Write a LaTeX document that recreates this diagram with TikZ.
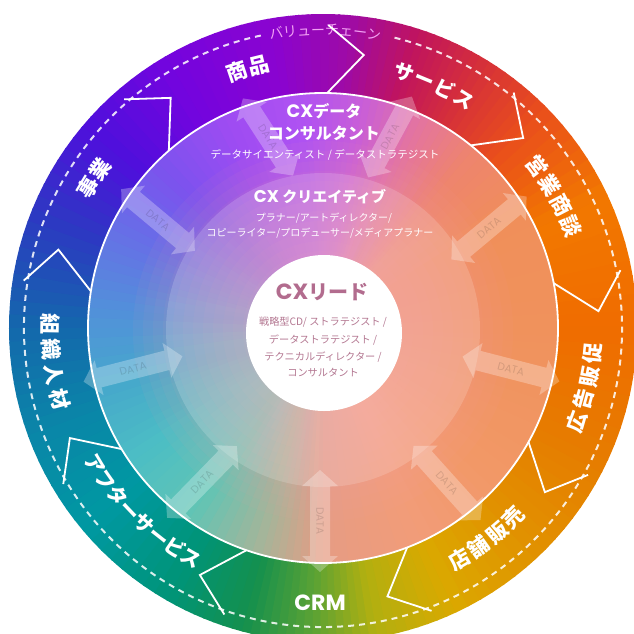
\documentclass[tikz,border=0pt]{standalone}
\usepackage{fontspec}
\newfontfamily\jp{Noto Sans CJK JP}
\newfontfamily\pop{Poppins}
% outer conic colours
\definecolor{oA}{HTML}{F06C00}
\definecolor{oB}{HTML}{F27800}
\definecolor{oC}{HTML}{E94E1C}
\definecolor{oD}{HTML}{D42E3C}
\definecolor{oE}{HTML}{C0145E}
\definecolor{oF}{HTML}{9E0AA6}
\definecolor{oG}{HTML}{8A04D0}
\definecolor{oH}{HTML}{7404DE}
\definecolor{oI}{HTML}{4E10DC}
\definecolor{oJ}{HTML}{2A3CC0}
\definecolor{oK}{HTML}{1468AC}
\definecolor{oL}{HTML}{0A86A8}
\definecolor{oM}{HTML}{0098A2}
\definecolor{oN}{HTML}{009478}
\definecolor{oO}{HTML}{14904E}
\definecolor{oP}{HTML}{5AA234}
\definecolor{oQ}{HTML}{B2B010}
\definecolor{oR}{HTML}{DAA800}
\definecolor{oS}{HTML}{E29000}
\definecolor{oT}{HTML}{E67C00}
% inner conic colours
\definecolor{iA}{HTML}{F0925C}
\definecolor{iB}{HTML}{F08F5A}
\definecolor{iC}{HTML}{EE846E}
\definecolor{iD}{HTML}{E474A0}
\definecolor{iE}{HTML}{C85ED8}
\definecolor{iF}{HTML}{B052F2}
\definecolor{iG}{HTML}{9E4CF2}
\definecolor{iH}{HTML}{7C52EE}
\definecolor{iI}{HTML}{6670E6}
\definecolor{iJ}{HTML}{5290DA}
\definecolor{iK}{HTML}{46A8CC}
\definecolor{iL}{HTML}{4CBEC4}
\definecolor{iM}{HTML}{62C4B4}
\definecolor{iN}{HTML}{A8B498}
\definecolor{iO}{HTML}{E69C84}
\definecolor{iP}{HTML}{F29C78}
\definecolor{iQ}{HTML}{F29866}
\definecolor{iR}{HTML}{F09460}
\definecolor{pinkov}{HTML}{F2A0AA}
\definecolor{vclr}{HTML}{F2A2F4}
\definecolor{leadc}{HTML}{B26C8E}
\definecolor{leads}{HTML}{B47892}

\newcommand\conicfill[2]{%
  \foreach \ga/\gb/\ka/\kb in {#2}{%
    \foreach \i in {0,...,7}{%
      \pgfmathsetmacro\angS{\ga+(\gb-\ga)*\i/8}%
      \pgfmathsetmacro\angE{\ga+(\gb-\ga)*(\i+1)/8+0.35}%
      \pgfmathtruncatemacro\mixT{round(100*(\i+0.5)/8)}%
      \fill[\kb!\mixT!\ka] (0,0) -- (\angS:#1) arc[start angle=\angS, end angle=\angE, radius=#1] -- cycle;
    }}}
\newcommand\toplabel[7]{%
  \foreach \ch [count=\i] in {#7}{%
    \pgfmathsetmacro\ang{#3-(\i-(#6+1)/2)*#5}%
    \node[#2, rotate=\ang-90] (#1\i) at (\ang:#4) {\ch};}}
\newcommand\botlabel[7]{%
  \foreach \ch [count=\i] in {#7}{%
    \pgfmathsetmacro\ang{#3+(\i-(#6+1)/2)*#5}%
    \node[#2, rotate=\ang+90] (#1\i) at (\ang:#4) {\ch};}}
\newcommand\dataarrow[5]{%
  \begin{scope}[shift={(#2,#3)}, rotate=#4]
    \fill[arrowfill] (-#5/2,0) -- (-#5/2+16,18) -- (-#5/2+16,10) -- (#5/2-16,10) -- (#5/2-16,18) -- (#5/2,0)
      -- (#5/2-16,-18) -- (#5/2-16,-10) -- (-#5/2+16,-10) -- (-#5/2+16,-18) -- cycle;
  \end{scope}
  \node[datatxt, rotate=#4] (#1) at (#2,#3) {DATA};}

\begin{document}
\begin{tikzpicture}[x=1pt,y=1pt,
  lbl/.style={text=white, font=\jp\bfseries\fontsize{21}{21}\selectfont, inner sep=0pt, text height=18pt, text depth=3pt},
  lblk/.style={text=white, font=\jp\bfseries\fontsize{20}{20}\selectfont, inner sep=0pt, text height=17pt, text depth=3pt},
  vc/.style={text=vclr, font=\jp\fontsize{14}{14}\selectfont, inner sep=0pt, text height=12pt, text depth=2pt},
  chev/.style={draw=white, line width=1.8pt, line join=miter},
  arrowfill/.style={fill=white, fill opacity=0.28},
  datatxt/.style={font=\pop\fontsize{10.5}{10.5}\selectfont, text=black, text opacity=0.13, inner sep=0pt},
  ttl/.style={text=white, font=\jp\bfseries\fontsize{16}{16}\selectfont, inner sep=0pt},
  subt/.style={text=white, font=\jp\fontsize{10.5}{12}\selectfont, inner sep=0pt},
  leadt/.style={text=leadc, font=\jp\bfseries\fontsize{20}{20}\selectfont, inner sep=0pt},
  leadl/.style={text=leads, font=\jp\fontsize{10.2}{12}\selectfont, inner sep=0pt},
]
\useasboundingbox (-323,-305) rectangle (311,328);

% outer ring conic gradient
\conicfill{314}{0/25/oA/oB, 25/45/oB/oC, 45/60/oC/oD, 60/72/oD/oE, 72/85/oE/oF, 85/100/oF/oG, 100/120/oG/oH, 120/140/oH/oI, 140/160/oI/oJ, 160/180/oJ/oK, 180/200/oK/oL, 200/220/oL/oM, 220/240/oM/oN, 240/255/oN/oO, 255/268/oO/oP, 268/280/oP/oQ, 280/295/oQ/oR, 295/315/oR/oS, 315/335/oS/oT, 335/360/oT/oA}

% dashed value-chain circle
\draw[white, opacity=0.85, line width=2pt, dash pattern=on 6pt off 5pt] (102:299) arc[start angle=102, end angle=437, radius=299];
\toplabel{vc}{vc}{89.6}{298}{2.7}{8}{バ,リ,ュ,ー,チ,ェ,ー,ン}

% chevron boundaries
\foreach \b [count=\k] in {11,51,89,131,171,211,251,291,331}{
  \coordinate (co\k) at (\b:303);
  \coordinate (ct\k) at (\b-7.5:276);
  \coordinate (ci\k) at (\b:235);
  \draw[chev] (co\k) -- (ct\k) -- (ci\k);
}

% inner disc conic gradient
\conicfill{235}{0/30/iA/iB, 30/50/iB/iC, 50/65/iC/iD, 65/80/iD/iE, 80/95/iE/iF, 95/115/iF/iG, 115/135/iG/iH, 135/155/iH/iI, 155/175/iI/iJ, 175/195/iJ/iK, 195/215/iK/iL, 215/235/iL/iM, 235/255/iM/iN, 255/270/iN/iO, 270/295/iO/iP, 295/320/iP/iQ, 320/345/iQ/iR, 345/360/iR/iA}

% pink centre glow
\foreach \r in {190,180,...,20}{
  \fill[pinkov, opacity=0.06] (0,-3) circle[radius=\r];
}
% light inner disc
\fill[white, opacity=0.16] (0,-2) circle[radius=157];
% middle circle border
\draw[white, line width=1.8pt] (0,0) circle[radius=235];

% DATA arrows
\dataarrow{d1}{-55}{191}{-57}{92}
\dataarrow{d2}{67}{191}{61.6}{92}
\dataarrow{d3}{166}{100}{39.9}{98}
\dataarrow{d4}{188}{-41}{-14.4}{100}
\dataarrow{d5}{124}{-155}{-48}{100}
\dataarrow{d6}{-3}{-193}{-90}{102}
\dataarrow{d7}{-121}{-154}{45.8}{100}
\dataarrow{d8}{-190}{-41}{14.4}{102}
\dataarrow{d9}{-165}{108}{-39.9}{96}

% white centre disc
\fill[white] (1,-5) circle[radius=78];

% outer ring labels
\toplabel{sh}{lbl}{106.1}{270}{4.7}{2}{商,品}
\toplabel{sv}{lblk}{65.3}{268}{4.7}{4}{サ,ー,ビ,ス}
\toplabel{ei}{lbl}{29.7}{268}{4.9}{4}{営,業,商,談}
\botlabel{ko}{lbl}{-12.8}{271}{5.0}{4}{広,告,販,促}
\botlabel{te}{lbl}{-52.1}{269}{4.9}{4}{店,舗,販,売}
\node[text=white, font=\pop\bfseries\fontsize{22}{22}\selectfont, inner sep=0pt] (crm) at (-90.6:275) {CRM};
\botlabel{af}{lblk}{225.5}{266}{4.2}{8}{ア,フ,タ,ー,サ,ー,ビ,ス}
\botlabel{so}{lbl}{187.2}{273}{5.4}{4}{組,織,人,材}
\toplabel{jg}{lbl}{146.8}{273}{4.5}{2}{事,業}

% inner texts
\node[ttl] (cxd1) at (1,217) {{\pop\fontsize{18}{18}\selectfont CX}データ};
\node[ttl] (cxd2) at (1,195) {コンサルタント};
\node[subt] (cxd3) at (2,173) {データサイエンティスト / データストラテジスト};
\node[ttl, font=\jp\bfseries\fontsize{15}{15}\selectfont] (cxc1) at (-3,131) {{\pop\fontsize{17}{17}\selectfont CX} クリエイティブ};
\node[subt, font=\jp\fontsize{10}{12}\selectfont] (cxc2) at (1,110) {プラナー/アートディレクター/};
\node[subt, font=\jp\fontsize{10}{12}\selectfont] (cxc3) at (-3,95) {コピーライター/プロデューサー/メディアプラナー};

% centre texts
\node[leadt] (lead0) at (-1,36) {{\pop\fontsize{22}{22}\selectfont CX}リード};
\node[leadl] (lead1) at (0,6) {戦略型CD/ ストラテジスト /};
\node[leadl] (lead2) at (0,-12) {データストラテジスト /};
\node[leadl] (lead3) at (0,-29) {テクニカルディレクター /};
\node[leadl] (lead4) at (0,-45) {コンサルタント};
\end{tikzpicture}
\end{document}
